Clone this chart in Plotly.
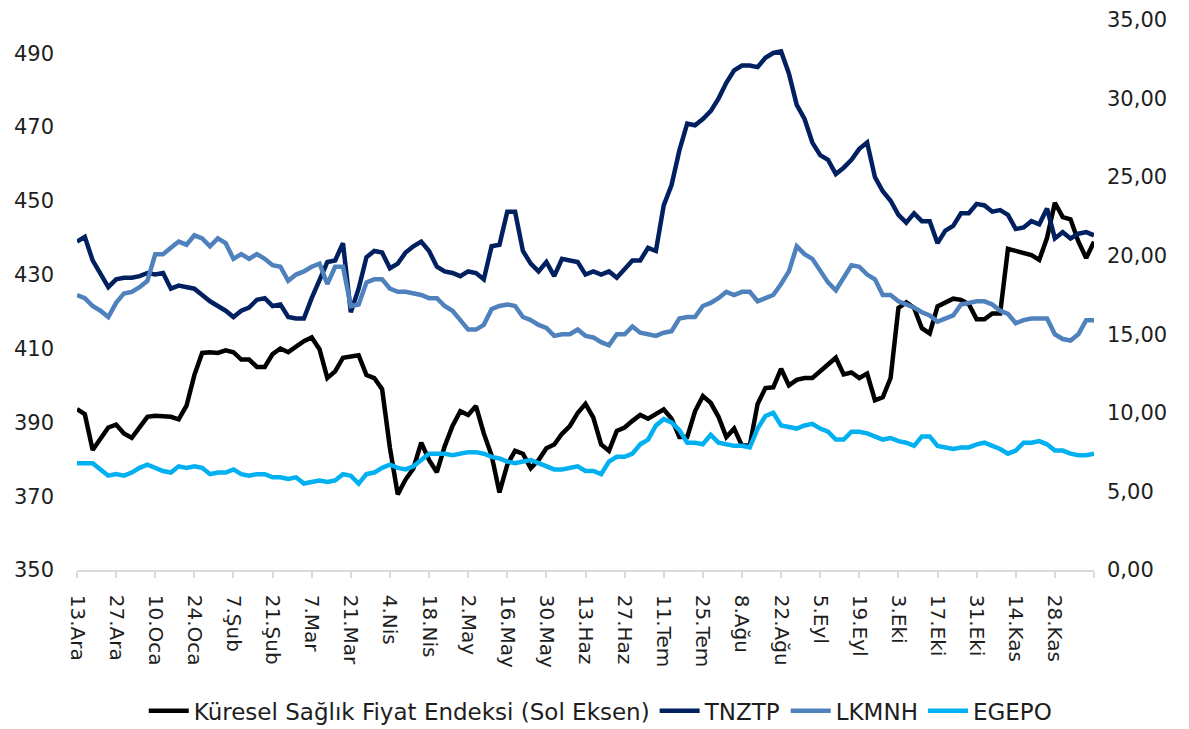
import pandas as pd
import plotly.graph_objects as go

# Business days from 13 Dec 2021 to 12 Dec 2022 (categories)
dates = pd.bdate_range("2021-12-13", "2022-12-12")
tr_months = ["Oca", "Şub", "Mar", "Nis", "May", "Haz", "Tem", "Ağu", "Eyl", "Eki", "Kas", "Ara"]
date_labels = [f"{d.day}.{tr_months[d.month - 1]}" for d in dates]

# values read every 2 business days
sample_idx = list(range(0, len(dates), 2))

kuresel = [393.6, 392.2, 382.5, 385.8, 388.6, 389.4, 387.0, 385.8, 388.8, 391.5,
           391.8, 391.8, 391.5, 390.8, 394.5, 402.8, 408.8, 409.0, 408.8, 409.5,
           409.0, 407.0, 407.0, 405.0, 405.0, 408.5, 410.0, 409.0, 410.6, 412.0,
           413.0, 409.8, 402.0, 403.8, 407.5, 407.8, 408.2, 402.8, 402.0, 399.0,
           383.1, 370.5, 374.5, 377.5, 384.5, 379.8, 376.5, 383.5, 389.0, 393.0,
           392.0, 394.4, 387.0, 381.0, 371.0, 378.5, 382.3, 381.5, 377.6, 379.8,
           383.0, 384.0, 386.9, 389.0, 392.5, 395.0, 391.3, 384.0, 382.3, 387.7,
           388.6, 390.4, 392.0, 391.0, 392.2, 393.5, 391.0, 386.0, 386.0, 393.0,
           397.1, 395.3, 391.5, 386.0, 388.3, 383.7, 383.7, 395.0, 399.3, 399.5,
           404.5, 400.0, 401.5, 402.0, 402.0, 403.8, 406.0, 407.5, 403.0, 403.5,
           402.0, 403.2, 396.0, 396.8, 402.0, 421.0, 422.5, 421.0, 415.5, 414.1,
           421.4, 422.5, 423.5, 423.2, 422.0, 417.9, 417.9, 419.5, 419.5, 437.0,
           436.5, 435.8, 435.3, 434.0, 440.0, 449.5, 445.6, 445.0, 439.0, 434.5,
           438.9]

tnztp = [20.9, 21.2, 19.7, 18.8, 18.0, 18.5, 18.6, 18.6, 18.7, 18.9,
         18.8, 18.9, 17.9, 18.1, 18.0, 17.9, 17.5, 17.1, 16.8, 16.5,
         16.1, 16.5, 16.7, 17.2, 17.3, 16.8, 16.9, 16.1, 16.0, 16.0,
         17.3, 18.5, 19.6, 19.7, 20.8, 16.4, 17.9, 19.9, 20.3, 20.2,
         19.2, 19.5, 20.2, 20.6, 20.9, 20.3, 19.3, 19.0, 18.9, 18.7,
         19.0, 18.9, 18.5, 20.6, 20.7, 22.8, 22.8, 20.3, 19.5, 19.0,
         19.6, 18.7, 19.8, 19.7, 19.6, 18.8, 19.0, 18.8, 19.0, 18.6,
         19.2, 19.7, 19.7, 20.5, 20.3, 23.2, 24.5, 26.7, 28.4, 28.3,
         28.7, 29.2, 30.0, 31.0, 31.8, 32.1, 32.1, 32.0, 32.6, 32.9,
         33.0, 31.6, 29.6, 28.7, 27.2, 26.4, 26.1, 25.2, 25.6, 26.1,
         26.8, 27.2, 25.0, 24.1, 23.5, 22.6, 22.1, 22.7, 22.2, 22.2,
         20.8, 21.6, 21.9, 22.7, 22.7, 23.3, 23.2, 22.8, 22.9, 22.6,
         21.7, 21.8, 22.2, 22.0, 23.0, 21.1, 21.5, 21.1, 21.4, 21.5,
         21.3]

lkmnh = [17.5, 17.3, 16.8, 16.5, 16.1, 17.0, 17.6, 17.7, 18.0, 18.4,
         20.1, 20.1, 20.5, 20.9, 20.7, 21.3, 21.1, 20.6, 21.1, 20.8,
         19.8, 20.1, 19.8, 20.1, 19.8, 19.4, 19.3, 18.4, 18.8, 19.0,
         19.3, 19.5, 18.2, 19.3, 19.3, 16.8, 16.9, 18.3, 18.5, 18.5,
         17.9, 17.7, 17.7, 17.6, 17.5, 17.3, 17.3, 16.8, 16.5, 15.9,
         15.3, 15.3, 15.6, 16.6, 16.8, 16.9, 16.8, 16.1, 15.9, 15.6,
         15.4, 14.9, 15.0, 15.0, 15.3, 14.9, 14.8, 14.5, 14.3, 15.0,
         15.0, 15.5, 15.1, 15.0, 14.9, 15.1, 15.2, 16.0, 16.1, 16.1,
         16.8, 17.0, 17.3, 17.7, 17.5, 17.7, 17.7, 17.1, 17.3, 17.5,
         18.2, 19.0, 20.6, 20.1, 19.8, 19.0, 18.3, 17.8, 18.6, 19.4,
         19.3, 18.8, 18.5, 17.5, 17.5, 17.1, 16.9, 16.7, 16.4, 16.2,
         15.8, 16.0, 16.2, 16.9, 17.0, 17.1, 17.1, 16.9, 16.5, 16.3,
         15.7, 15.9, 16.0, 16.0, 16.0, 15.0, 14.7, 14.6, 15.0, 15.9,
         15.9]

egepo = [6.8, 6.8, 6.8, 6.4, 6.0, 6.1, 6.0, 6.2, 6.5, 6.7,
         6.5, 6.3, 6.2, 6.6, 6.5, 6.6, 6.5, 6.1, 6.2, 6.2,
         6.4, 6.1, 6.0, 6.1, 6.1, 5.9, 5.9, 5.8, 5.9, 5.5,
         5.6, 5.7, 5.6, 5.7, 6.1, 6.0, 5.5, 6.1, 6.2, 6.5,
         6.7, 6.5, 6.4, 6.6, 7.0, 7.4, 7.4, 7.4, 7.3, 7.4,
         7.5, 7.5, 7.4, 7.2, 7.1, 6.9, 6.8, 6.9, 7.0, 6.8,
         6.6, 6.4, 6.4, 6.5, 6.6, 6.3, 6.3, 6.1, 6.9, 7.2,
         7.2, 7.4, 8.0, 8.3, 9.2, 9.6, 9.4, 8.9, 8.1, 8.1,
         8.0, 8.6, 8.1, 8.0, 7.9, 7.9, 7.8, 9.0, 9.8, 10.0,
         9.2, 9.1, 9.0, 9.2, 9.3, 9.0, 8.8, 8.3, 8.3, 8.8,
         8.8, 8.7, 8.5, 8.3, 8.4, 8.2, 8.1, 7.9, 8.5, 8.5,
         7.9, 7.8, 7.7, 7.8, 7.8, 8.0, 8.1, 7.9, 7.7, 7.4,
         7.6, 8.1, 8.1, 8.2, 8.0, 7.6, 7.6, 7.4, 7.3, 7.3,
         7.4]

series_names = ["Küresel Sağlık Fiyat Endeksi (Sol Eksen)", "TNZTP", "LKMNH", "EGEPO"]
series_colors = ["#000000", "#002060", "#4F81BD", "#00B0F0"]

tick_idx = list(range(0, len(dates), 10))
tick_text = [date_labels[i] if i <= 250 else "" for i in tick_idx]

fig = go.Figure()
fig.add_trace(go.Scatter(x=sample_idx, y=kuresel, name=series_names[0], mode="lines",
                         line=dict(color=series_colors[0], width=4.5), yaxis="y"))
for name, vals, col in zip(series_names[1:], [tnztp, lkmnh, egepo], series_colors[1:]):
    fig.add_trace(go.Scatter(x=sample_idx, y=vals, name=name, mode="lines",
                             line=dict(color=col, width=4.5), yaxis="y2"))

fig.update_layout(
    width=1181, height=721,
    margin=dict(l=69, r=95, t=12, b=159, autoexpand=False),
    paper_bgcolor="white", plot_bgcolor="white",
    separators=",.",
    font=dict(family="DejaVu Sans", size=20, color="#1e1e1e"),
    showlegend=True,
    legend=dict(orientation="h", x=0.515, xanchor="center", y=-0.256, yanchor="middle",
                font=dict(size=23), itemwidth=40, traceorder="normal"),
    xaxis=dict(range=[0, len(dates) - 1], tickmode="array", tickvals=tick_idx, ticktext=tick_text,
               tickangle=90, showline=True, linecolor="#d9d9d9", linewidth=1.5,
               ticks="outside", tickcolor="#d9d9d9", ticklen=6, tickwidth=1.5,
               showgrid=False, zeroline=False, automargin=False, ticklabelstandoff=13),
    yaxis=dict(range=[350, 499], tickmode="array", tickvals=list(range(350, 491, 20)),
               showgrid=False, zeroline=False, showline=False, ticklabelstandoff=22,
               automargin=False, tickfont=dict(size=21), ticklabeloverflow="allow"),
    yaxis2=dict(range=[0, 35], tickmode="array", tickvals=list(range(0, 36, 5)), tickformat=".2f",
                overlaying="y", side="right", showgrid=False, zeroline=False, showline=False,
                ticklabelstandoff=12, automargin=False, tickfont=dict(size=21),
                ticklabeloverflow="allow"),
)

fig.write_html("out.html")
